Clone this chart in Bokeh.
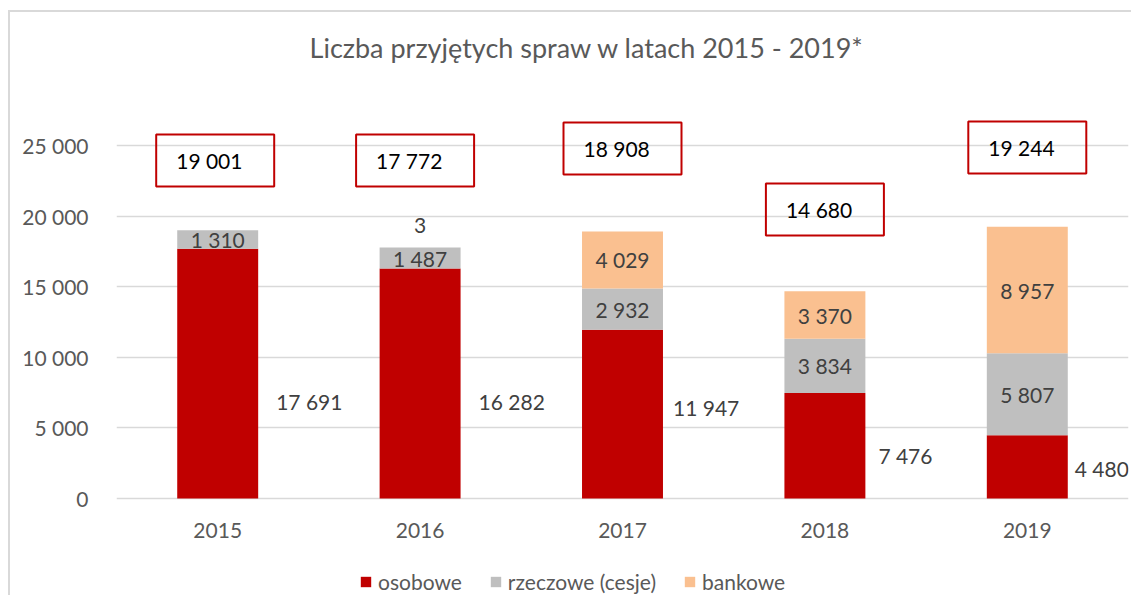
from bokeh.plotting import figure
from bokeh.models import (FactorRange, Range1d, FixedTicker, CustomJSTickFormatter,
                          Legend, LegendItem, ColumnDataSource)
from bokeh.core.properties import value
from bokeh.embed import file_html
from bokeh.resources import INLINE

# ---- data ----
years = ["2015", "2016", "2017", "2018", "2019"]
osobowe = [17691, 16282, 11947, 7476, 4480]
rzeczowe = [1310, 1487, 2932, 3834, 5807]
bankowe = [0, 3, 4029, 3370, 8957]
totals = [19001, 17772, 18908, 14680, 19244]
series_names = ["osobowe", "rzeczowe (cesje)", "bankowe"]
y_ticks = [0, 5000, 10000, 15000, 20000, 25000]
title_text = "Liczba przyjętych spraw w latach 2015 - 2019*"

# ---- layout / style (positions of manually placed labels) ----
colors = ["#C00000", "#BFBFBF", "#FAC090"]
FONT = "Lato"
W, H = 1131, 595
FRAME_LEFT = 116
ZERO_PX = 498            # pixel row of value 0
PX_PER_25K = 353         # pixels between 0 and 25 000
bar_width = 0.4
cat_px = (W - 3 - FRAME_LEFT) / len(years)
units_per_px = 25000 / PX_PER_25K
total_box_dx = [-2.5, -5, 0, 0, 0]          # px offset of total box from category centre
total_box_y = [23938, 23938, 24787, 20467, 24858]
osob_label_dx = [18, 18, 10, 13, 7]          # px gap from bar right edge
osob_label_y = [6870, 6870, 6445, 3045, 2125]
small_label_lift = 22                         # px lift for tiny segment label
title_pos = (2.3246, (ZERO_PX - 47) * units_per_px)
year_label_drop = 32
legend_pos = (243, 1)
chart_border = "#D9D9D9"


def fmt(v):
    return f"{v:,}".replace(",", " ")


p = figure(x_range=FactorRange(*years, range_padding=0),
           y_range=Range1d(-(H - ZERO_PX) * units_per_px, ZERO_PX * units_per_px),
           width=W, height=H, output_backend="svg", toolbar_location=None,
           min_border_left=FRAME_LEFT, min_border_right=3, min_border_top=0,
           min_border_bottom=0)

p.outline_line_color = None
p.background_fill_alpha = 0
p.border_fill_alpha = 0
# chart-area border (left and top edges) drawn behind the transparent canvas
p.styles = {
    "background-color": "white",
    "background-image": f"linear-gradient({chart_border},{chart_border}), "
                        f"linear-gradient({chart_border},{chart_border})",
    "background-size": "2px 100%, 100% 2px",
    "background-position": "8px 10px, 8px 10px",
    "background-repeat": "no-repeat",
}

# grid / axes
p.xgrid.grid_line_color = None
p.ygrid.grid_line_color = "#D9D9D9"
p.ygrid.grid_line_width = 1.5
p.yaxis.ticker = FixedTicker(ticks=y_ticks)
p.yaxis.formatter = CustomJSTickFormatter(
    code="return tick.toFixed(0).replace(/\\B(?=(\\d{3})+(?!\\d))/g, ' ');")
p.yaxis.axis_line_color = None
p.yaxis.major_tick_line_color = None
p.yaxis.minor_tick_line_color = None
p.yaxis.major_label_text_font = FONT
p.yaxis.major_label_text_font_size = "21px"
p.yaxis.major_label_text_color = "#595959"
p.yaxis.major_label_standoff = 22
p.xaxis.visible = False

# title
p.text(x=[title_pos[0]], y=[title_pos[1]], text=[title_text], text_font=value(FONT),
       text_font_size="27px", text_color="#595959", text_align="center",
       text_baseline="middle")

# category labels
p.text(x=years, y=[0] * len(years), text=years, y_offset=year_label_drop,
       text_font=value(FONT), text_font_size="21px", text_color="#595959",
       text_align="center", text_baseline="middle")

# stacked bars
src = ColumnDataSource(dict(years=years, osobowe=osobowe, rzeczowe=rzeczowe, bankowe=bankowe))
rends = p.vbar_stack(["osobowe", "rzeczowe", "bankowe"], x="years", width=bar_width,
                     color=colors, source=src, line_color=None)

# segment labels (rzeczowe, bankowe) centered in segments
lx, ly, lt, loff = [], [], [], []
for i, y in enumerate(years):
    base = osobowe[i]
    for segv in (rzeczowe[i], bankowe[i]):
        if segv > 0:
            lx.append(y)
            ly.append(base + segv / 2)
            lt.append(fmt(segv))
            loff.append(-small_label_lift if segv < 300 else 0)
        base += segv
p.text(x=lx, y=ly, text=lt, y_offset=loff, text_font=value(FONT), text_font_size="21px",
       text_color="#404040", text_align="center", text_baseline="middle")

# osobowe labels to the right of bars
p.text(x=years, y=osob_label_y, text=[fmt(v) for v in osobowe],
       x_offset=[bar_width / 2 * cat_px + d for d in osob_label_dx],
       text_font=value(FONT), text_font_size="21px", text_color="#404040",
       text_align="left", text_baseline="middle")

# total boxes
bx = [i + 0.5 + d / cat_px for i, d in enumerate(total_box_dx)]
p.rect(x=bx, y=total_box_y, width=118, height=52, width_units="screen",
       height_units="screen", fill_color="white", fill_alpha=0,
       line_color="#C00000", line_width=2)
p.text(x=bx, y=total_box_y, text=[fmt(v) for v in totals], x_offset=-39,
       text_font=value(FONT), text_font_size="21px", text_color="black",
       text_align="left", text_baseline="middle")

# legend
legend = Legend(items=[LegendItem(label=n, renderers=[r]) for n, r in zip(series_names, rends)],
                orientation="horizontal", location=legend_pos, glyph_width=13, glyph_height=13,
                label_standoff=6, spacing=27, padding=0, margin=0, border_line_color=None,
                background_fill_alpha=0, label_text_font=FONT, label_text_font_size="21px",
                label_text_color="#595959")
p.add_layout(legend)

open("out.html", "w").write(file_html(p, INLINE))
